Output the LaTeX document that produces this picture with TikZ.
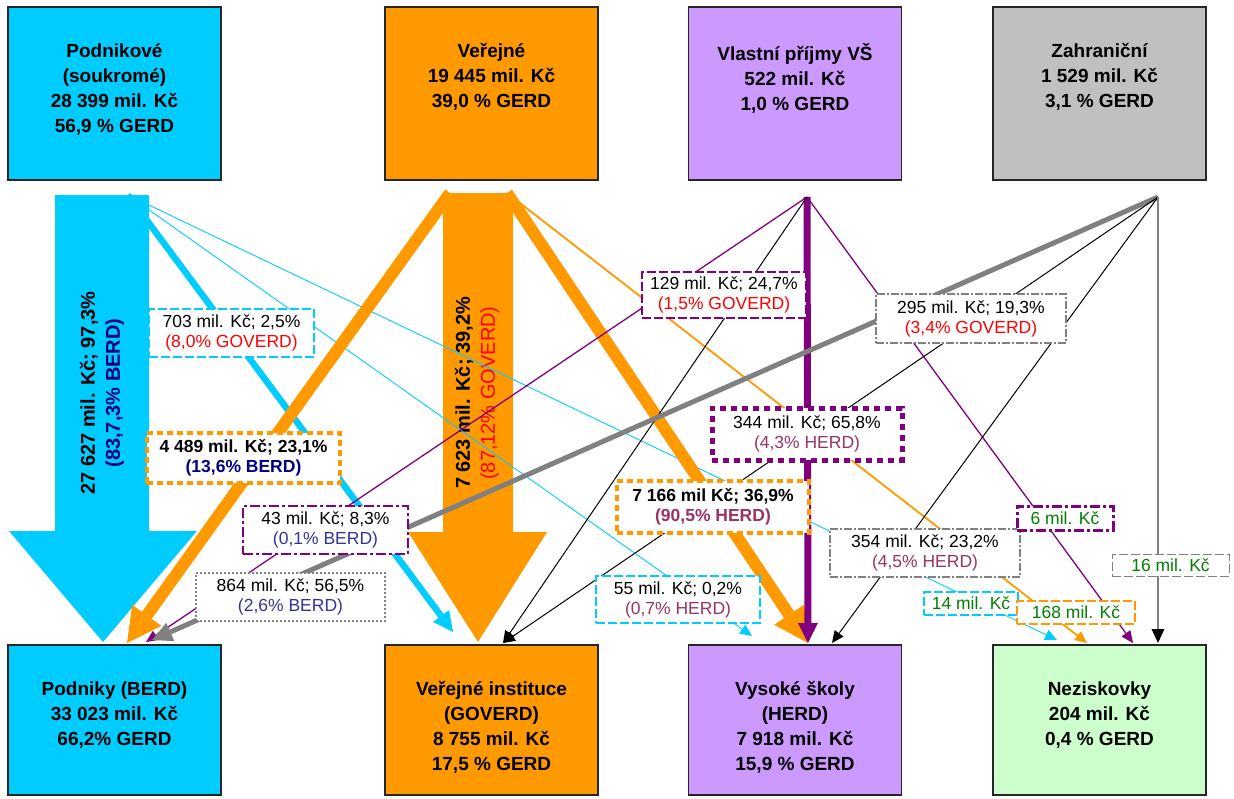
\documentclass[tikz,border=0pt]{standalone}
\usepackage{fontspec}
\setmainfont{Liberation Sans}
\usetikzlibrary{positioning,arrows.meta}

\definecolor{czCyan}{RGB}{0,204,255}
\definecolor{czOrange}{RGB}{255,153,0}
\definecolor{czLila}{RGB}{204,153,255}
\definecolor{czGray}{RGB}{192,192,192}
\definecolor{czMint}{RGB}{204,255,204}
\definecolor{czPurple}{RGB}{128,0,128}
\definecolor{czDark}{RGB}{128,128,128}
\definecolor{czNavy}{RGB}{0,0,128}
\definecolor{czBlue}{RGB}{51,51,153}
\definecolor{czPlum}{RGB}{153,51,102}
\definecolor{czGreen}{RGB}{0,128,0}

\begin{document}
\begin{tikzpicture}[x=1pt,y=-1pt,
    srcbox/.style={draw=black!85, line width=1.3pt, minimum width=213pt, minimum height=173pt, inner sep=0pt},
    dstbox/.style={srcbox, minimum height=150pt},
    boxtitle/.style={anchor=north, align=center, inner sep=0pt, yshift=-37pt,
        font=\fontsize{19}{25}\selectfont\bfseries, execute at begin node=\rule{0pt}{17pt}},
    lbl/.style={fill=white, align=center, inner sep=0pt, font=\fontsize{17.5}{20}\selectfont},
    bigtxt/.style={rotate=90, align=center, font=\fontsize{20}{25}\selectfont},
    tipS/.style={-{Triangle[length=12pt,width=11pt,line width=0pt]}},
    tipM/.style={-{Triangle[length=20pt,width=20pt,line width=0pt]}},
    tipL/.style={-{Triangle[length=34pt,width=36pt,line width=0pt]}},
    cydash/.style={draw=czCyan, line width=1.2pt, dash pattern=on 9pt off 3pt},
    ordash/.style={draw=czOrange, line width=1.5pt, dash pattern=on 9pt off 3pt},
    grdash/.style={draw=czDark, line width=1pt, dash pattern=on 9pt off 3pt},
    pudash/.style={draw=czPurple, line width=1.2pt, dash pattern=on 9pt off 3pt},
    pudashdot/.style={draw=czPurple, line width=1.2pt, dash pattern=on 10pt off 3pt on 3pt off 3pt},
    grdot/.style={draw=czDark, line width=2.5pt, dash pattern=on 2pt off 2pt},
    grdashdot/.style={draw=czDark, line width=2.5pt, dash pattern=on 8pt off 2pt on 2pt off 2pt},
    ordot/.style={draw=czOrange, line width=4.5pt, dash pattern=on 6pt off 4pt},
    pudot/.style={draw=czPurple, line width=5pt, dash pattern=on 6pt off 5pt}]

\useasboundingbox (0,0) rectangle (1234,798);

% block arrows
\fill[czCyan] (55,195) -- (149,195) -- (149,531) -- (197,531) -- (103,642) -- (9,531) -- (55,531) -- cycle;
\fill[czOrange] (443,193) -- (513,193) -- (513,532) -- (547,532) -- (478,642) -- (408,532) -- (443,532) -- cycle;
\node[bigtxt] (podTxt) at (102,393) {\textbf{27 627 mil. Kč; 97,3\%}\\\textcolor{czNavy}{\bfseries(83,7,3\% BERD)}};
\node[bigtxt] (verTxt) at (477,393) {\textbf{7 623 mil. Kč; 39,2\%}\\\textcolor{red}{(87,12\% GOVERD)}};

% sources and targets
\coordinate (podSrc) at (128,195);
\coordinate (verSrcL) at (450,193);
\coordinate (verSrcR) at (507,193);
\coordinate (vsSrc) at (807,197);
\coordinate (zahSrc) at (1158,197);

\coordinate (podIn1) at (127,643);
\coordinate (podIn2) at (152,640);
\coordinate (podIn3) at (146,642);
\coordinate (verIn1) at (453,632);
\coordinate (verIn2) at (503,643);
\coordinate (vsIn1) at (752,636);
\coordinate (vsIn2) at (808,643);
\coordinate (vsIn3) at (832,643);
\coordinate (nezIn1) at (1057,640);
\coordinate (nezIn2) at (1087,643);
\coordinate (nezIn3) at (1133,643);
\coordinate (nezIn4) at (1158,643);

% flows
\draw[czCyan, line width=0.9pt, tipS] (podSrc) -- (vsIn1);
\draw[czCyan, line width=0.9pt, tipS] (podSrc) -- (nezIn1);
\draw[czCyan, line width=6.5pt, tipM] (podSrc) -- (verIn1);
\draw[czOrange, line width=12pt, tipL] (verSrcL) -- (podIn1);
\draw[czOrange, line width=12pt, tipL] (verSrcR) -- (vsIn2);
\draw[czOrange, line width=1.8pt, tipS] (verSrcR) -- (nezIn2);
\draw[czPurple, line width=7pt, tipM] (vsSrc) -- (vsIn2);
\draw[czPurple, line width=1.3pt, tipS] (vsSrc) -- (podIn3);
\draw[czPurple, line width=1.3pt, tipS] (vsSrc) -- (nezIn3);
\draw[black, line width=1pt, tipS] (vsSrc) -- (verIn2);
\draw[czDark, line width=5pt, tipM] (zahSrc) -- (podIn2);
\draw[black, line width=1pt, tipS] (zahSrc) -- (verIn2);
\draw[black, line width=1pt, tipS] (zahSrc) -- (vsIn3);
\draw[czDark, line width=2pt, -{Triangle[length=14pt,width=13pt,line width=0pt,color=black]}] (zahSrc) -- (nezIn4);

% labels
\node[lbl, cydash, minimum width=165pt, minimum height=48pt] (l703) at (231.5,333) {703 mil. Kč; 2,5\%\\\textcolor{red}{(8,0\% GOVERD)}};
\node[lbl, ordot, minimum width=193pt, minimum height=50pt] (l4489) at (243.5,458) {\textbf{4 489 mil. Kč; 23,1\%}\\\textcolor{czNavy}{\bfseries(13,6\% BERD)}};
\node[lbl, pudashdot, minimum width=165pt, minimum height=48pt] (l43) at (325.5,530) {43 mil. Kč; 8,3\%\\\textcolor{czBlue}{(0,1\% BERD)}};
\node[lbl, grdot, minimum width=189pt, minimum height=48pt] (l864) at (290.5,597) {864 mil. Kč; 56,5\%\\\textcolor{czBlue}{(2,6\% BERD)}};
\node[lbl, pudash, minimum width=164pt, minimum height=46pt] (l129) at (724,295) {129 mil. Kč; 24,7\%\\\textcolor{red}{(1,5\% GOVERD)}};
\node[lbl, grdashdot, minimum width=190pt, minimum height=49pt] (l295) at (971,318.5) {295 mil. Kč; 19,3\%\\\textcolor{red}{(3,4\% GOVERD)}};
\node[lbl, pudot, minimum width=190pt, minimum height=52pt] (l344) at (807,434) {344 mil. Kč; 65,8\%\\\textcolor{czPlum}{(4,3\% HERD)}};
\node[lbl, ordot, minimum width=192pt, minimum height=52pt] (l7166) at (713,507) {\textbf{7 166 mil Kč; 36,9\%}\\\textcolor{czPlum}{\bfseries(90,5\% HERD)}};
\node[lbl, cydash, minimum width=164pt, minimum height=47pt] (l55) at (678,599.5) {55 mil. Kč; 0,2\%\\\textcolor{czPlum}{(0,7\% HERD)}};
\node[lbl, grdashdot, minimum width=190pt, minimum height=48pt] (l354) at (925,553) {354 mil. Kč; 23,2\%\\\textcolor{czPlum}{(4,5\% HERD)}};
\node[lbl, pudashdot, line width=3pt, minimum width=96pt, minimum height=24pt] (l6) at (1065,518) {\textcolor{czGreen}{6 mil. Kč}};
\node[lbl, grdash, minimum width=117pt, minimum height=22pt] (l16) at (1170.5,565) {\textcolor{czGreen}{16 mil. Kč}};
\node[lbl, cydash, minimum width=94pt, minimum height=23pt] (l14) at (971,603.5) {\textcolor{czGreen}{14 mil. Kč}};
\node[lbl, ordash, minimum width=118pt, minimum height=23pt] (l168) at (1076,612.5) {\textcolor{czGreen}{168 mil. Kč}};

% sources
\node[srcbox, fill=czCyan] (podnikove) at (114.5,93.5) {};
\node[boxtitle] (podnikoveT) at (podnikove.north) {Podnikové\\(soukromé)\\28 399 mil. Kč\\56,9 \% GERD};
\node[srcbox, fill=czOrange] (verejne) at (491.5,93.5) {};
\node[boxtitle] (verejneT) at (verejne.north) {Veřejné\\19 445 mil. Kč\\39,0 \% GERD};
\node[srcbox, fill=czLila] (vlastni) at (795,93.5) {};
\node[boxtitle] (vlastniT) at (vlastni.north) {Vlastní příjmy VŠ\\522 mil. Kč\\1,0 \% GERD};
\node[srcbox, fill=czGray] (zahranicni) at (1099.5,93.5) {};
\node[boxtitle] (zahranicniT) at (zahranicni.north) {Zahraniční\\1 529 mil. Kč\\3,1 \% GERD};

% recipients
\node[dstbox, fill=czCyan] (podniky) at (114.5,720) {};
\node[boxtitle] (podnikyT) at (podniky.north) {Podniky (BERD)\\33 023 mil. Kč\\66,2\% GERD};
\node[dstbox, fill=czOrange] (instituce) at (491.5,720) {};
\node[boxtitle] (instituceT) at (instituce.north) {Veřejné instituce\\(GOVERD)\\8 755 mil. Kč\\17,5 \% GERD};
\node[dstbox, fill=czLila] (vysoke) at (795,720) {};
\node[boxtitle] (vysokeT) at (vysoke.north) {Vysoké školy\\(HERD)\\7 918 mil. Kč\\15,9 \% GERD};
\node[dstbox, fill=czMint] (neziskovky) at (1099.5,720) {};
\node[boxtitle] (neziskovkyT) at (neziskovky.north) {Neziskovky\\204 mil. Kč\\0,4 \% GERD};
\end{tikzpicture}
\end{document}
